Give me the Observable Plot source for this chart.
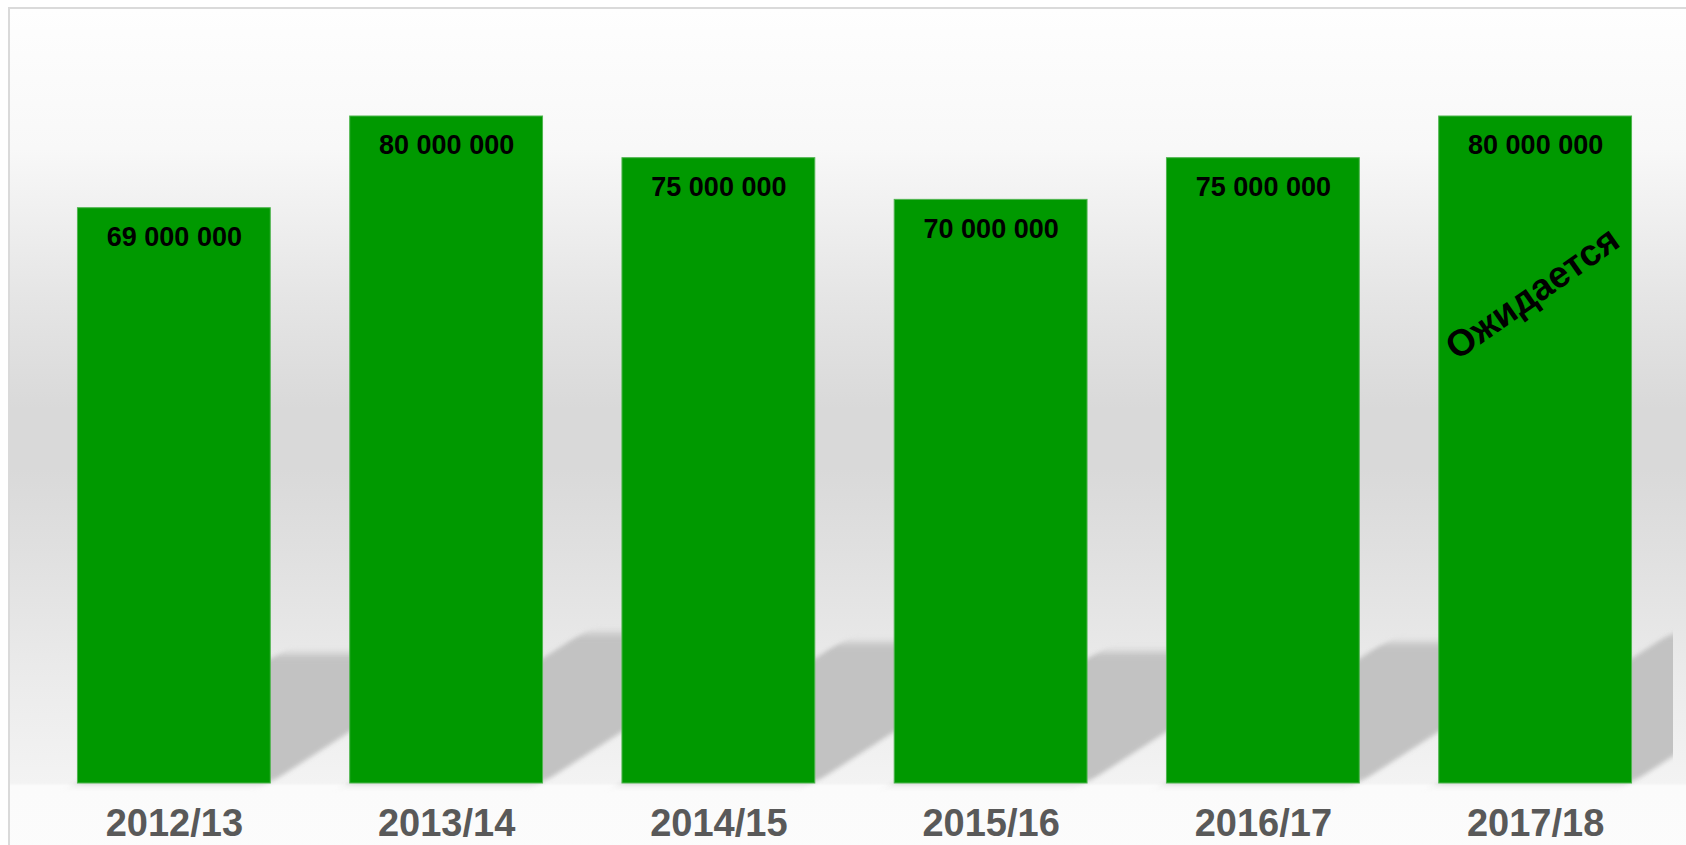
<!DOCTYPE html>
<html>
<head>
<meta charset="utf-8">
<script src="https://cdn.jsdelivr.net/npm/d3@7"></script>
<script src="https://cdn.jsdelivr.net/npm/@observablehq/plot@0.6"></script>
<style>
  html, body { margin: 0; padding: 0; background: #ffffff; }
  #wrap { position: relative; width: 1686px; height: 845px; overflow: hidden; background: #ffffff; }
  #frame {
    position: absolute; left: 8px; top: 7px; width: 1700px; height: 900px;
    border: 2px solid #dadada; box-sizing: border-box;
    background: linear-gradient(to bottom,
      #fefefe 0px, #f8f8f8 140px, #e6e6e6 280px, #d9d9d9 400px, #d9d9d9 460px,
      #e3e3e3 580px, #ececec 680px, #f3f3f3 774px, #fbfbfb 777px, #fcfcfc 900px);
  }
  #chart { position: absolute; left: 0; top: 0; }
  #chart svg { background: transparent; }
</style>
</head>
<body>
<div id="wrap"><div id="frame"></div><div id="chart"></div></div>
<script>
const years = ["2012/13", "2013/14", "2014/15", "2015/16", "2016/17", "2017/18"];
const values = [69000000, 80000000, 75000000, 70000000, 75000000, 80000000];
const noteYears = ["2017/18"];
const noteTexts = ["Ожидается"];

const data = years.map((year, i) => ({year, value: values[i]}));
const notes = noteYears.map((year, i) => ({year, value: values[years.indexOf(year)], text: noteTexts[i]}));
const fmt = v => d3.format(",")(v).replace(/,/g, " ");

const font = "'Liberation Sans', Arial, Helvetica, sans-serif";

const plot = Plot.plot({
  width: 1686,
  height: 845,
  marginTop: 116,
  marginBottom: 62,
  marginLeft: 23,
  marginRight: 0,
  style: {background: "transparent", fontFamily: font, overflow: "visible", color: "#595959"},
  x: {domain: years, paddingInner: 0.2917, paddingOuter: 0.2, round: false, axis: null},
  y: {domain: [0, 80000000], axis: null},
  marks: [
    Plot.barY(data, {x: "year", y: d => d.value * 0.225, fill: "#c2c2c2"}),
    Plot.barY(data, {x: "year", y: "value", fill: "#009900", stroke: "#4fb54f", strokeWidth: 1}),
    Plot.text(data, {x: "year", y: "value", text: d => fmt(d.value), dy: 29, lineAnchor: "middle",
      fontSize: 27, fontWeight: "bold", fill: "#000000"}),
    Plot.text(notes, {x: "year", y: "value", text: "text", dy: 177, dx: -3, rotate: -35, lineAnchor: "middle",
      fontSize: 37, fontWeight: "bold", fill: "#000000"}),
    Plot.axisX({tickSize: 0, tickPadding: 26, fontSize: 38, fontWeight: "bold", color: "#595959", label: null})
  ]
});
document.getElementById("chart").appendChild(plot);

// perspective shadow: skew the first bar group up-right and soften it
const svg = d3.select(plot);
const groups = plot.querySelectorAll('g[aria-label="bar"]');
const shadow = groups[0];
const base = 783, k = 1.55;
const clipId = "shadowclip";
svg.insert("defs", ":first-child").append("clipPath").attr("id", clipId)
  .append("rect").attr("x", 0).attr("y", 0).attr("width", 1673).attr("height", 845);
const wrapper = document.createElementNS("http://www.w3.org/2000/svg", "g");
wrapper.setAttribute("clip-path", `url(#${clipId})`);
shadow.parentNode.insertBefore(wrapper, shadow);
wrapper.appendChild(shadow);
shadow.setAttribute("transform", `translate(${k * base},0) skewX(${-Math.atan(k) * 180 / Math.PI})`);
shadow.style.filter = "blur(4px)";
</script>
</body>
</html>
